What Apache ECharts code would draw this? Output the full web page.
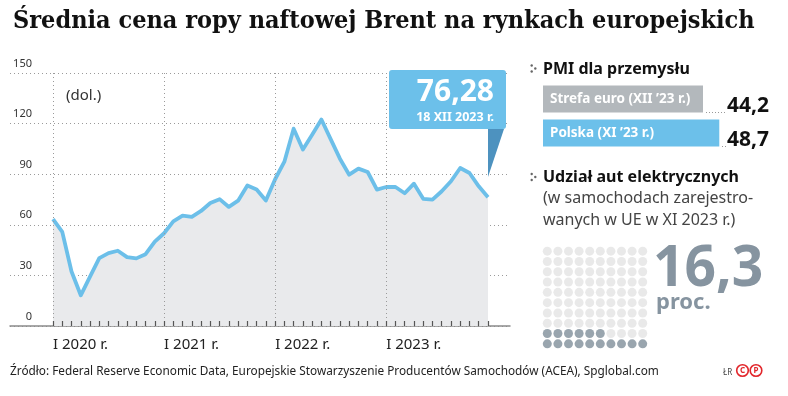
<!DOCTYPE html>
<html>
<head>
<meta charset="utf-8">
<script src="https://cdn.jsdelivr.net/npm/echarts@6/dist/echarts.min.js"></script>
<style>
  html, body { margin: 0; padding: 0; background: #fff; }
  #chart { width: 788px; height: 396px; }
</style>
</head>
<body>
<div id="chart"></div>
<script>
// miesiące I 2020 - XII 2023
var months = [];
for (var y = 2020; y <= 2023; y++) {
  for (var m = 1; m <= 12; m++) months.push(y + '-' + m);
}
var yearLabels = ['I 2020 r.', 'I 2021 r.', 'I 2022 r.', 'I 2023 r.'];

// średnia cena Brent (dol.)
var brent = [
  63.4, 55.8, 32.3, 18.2, 29.3, 40.2, 43.2, 44.6, 40.8, 40.1, 42.6, 50.0,
  55.0, 62.0, 65.4, 64.7, 68.2, 72.9, 75.2, 70.6, 74.3, 83.3, 80.9, 74.4,
  87.0, 97.4, 117.0, 104.6, 113.4, 122.4, 110.8, 99.2, 89.7, 93.3, 91.3, 80.9,
  82.4, 82.4, 78.7, 84.4, 75.4, 74.9, 79.9, 85.8, 93.7, 90.7, 82.8, 76.3
];
var yTicks = [0, 30, 60, 90, 120, 150];

var lastValue = '76,28';
var lastDate = '18 XII 2023 r.';

var pmiNames = ['Strefa euro (XII \u201923 r.)', 'Polska (XI \u201923 r.)'];
var pmiValues = [44.2, 48.7];

var evShare = 16.3;

var fmt = function (v) { return String(v).replace('.', ','); };

var cells = [];
for (var k = 0; k < 100; k++) {
  cells.push({
    value: [k % 10, Math.floor(k / 10)],
    itemStyle: { color: k < Math.floor(evShare) ? '#808f9a' : '#e3e3e3' }
  });
}

var sans = '"Noto Sans", "Open Sans", sans-serif';
var chart = echarts.init(document.getElementById('chart'), null, { renderer: 'canvas' });

var option = {
  backgroundColor: '#fff',
  animation: false,
  title: {
    text: 'Średnia cena ropy naftowej Brent na rynkach europejskich',
    left: 8, top: 4,
    textStyle: { fontFamily: '"DejaVu Serif Condensed", "DejaVu Serif", serif', fontWeight: 'bold', fontSize: 25, color: '#111' }
  },
  grid: [
    { left: 10, right: 278, top: 73, bottom: 70 },
    { left: 53, right: 300, top: 73, bottom: 70 },
    { left: 543, width: 181, top: 82, height: 68 },
    { left: 542, width: 106, top: 246, height: 103 }
  ],
  xAxis: [
    {
      gridIndex: 0, type: 'value', min: 0, max: 1,
      axisLine: { show: true, lineStyle: { color: '#8a8a8a', width: 1.5 } },
      axisTick: { show: false }, axisLabel: { show: false }, splitLine: { show: false }
    },
    {
      gridIndex: 1, type: 'category', data: months, boundaryGap: false, z: 5,
      axisLine: { show: true, lineStyle: { color: 'rgba(0,0,0,0)' } },
      axisTick: { show: true, inside: true, length: 5, interval: 0, lineStyle: { color: '#555', width: 1.2 } },
      axisLabel: {
        interval: function (i) { return i % 12 === 0; },
        formatter: function (v, i) { return yearLabels[Math.floor(i / 12)]; },
        align: 'left', margin: 11, fontFamily: sans, fontSize: 15, color: '#222'
      },
      splitLine: {
        show: true,
        interval: function (i) { return i % 12 === 0; },
        lineStyle: { color: '#9a9a9a', type: [1, 3], width: 1 }
      }
    },
    {
      gridIndex: 2, type: 'value', min: 0, max: 50, show: false
    },
    {
      gridIndex: 3, type: 'value', min: -0.5, max: 9.5, show: false
    }
  ],
  yAxis: [
    {
      gridIndex: 0, type: 'value', min: 0, max: 150, interval: 30,
      axisLine: { show: false }, axisTick: { show: false },
      axisLabel: {
        inside: true, margin: 22, align: 'right', verticalAlign: 'bottom', padding: [0, 0, 4, 0],
        fontFamily: sans, fontSize: 11, color: '#333'
      },
      splitLine: { lineStyle: { color: '#9a9a9a', type: [1, 3], width: 1 } }
    },
    {
      gridIndex: 1, type: 'value', min: 0, max: 150, show: false
    },
    {
      gridIndex: 2, type: 'category', data: pmiNames, inverse: true,
      axisLine: { show: false }, axisTick: { show: false }, axisLabel: { show: false }
    },
    {
      gridIndex: 2, type: 'category', position: 'right', inverse: true,
      data: pmiValues.map(fmt),
      axisLine: { show: false }, axisTick: { show: false },
      axisLabel: {
        margin: 3, align: 'left', verticalAlign: 'top', lineHeight: 14,
        fontFamily: sans, fontWeight: 'bold', fontSize: 21, color: '#111'
      }
    },
    {
      gridIndex: 3, type: 'value', min: -0.5, max: 9.5, show: false
    }
  ],
  series: [
    {
      type: 'line', xAxisIndex: 1, yAxisIndex: 1, data: brent,
      symbol: 'none', smooth: false,
      lineStyle: { color: '#6cbfe9', width: 3.8, join: 'round' },
      areaStyle: { color: '#e9eaec', opacity: 1 },
      z: 3
    },
    {
      type: 'bar', xAxisIndex: 2, yAxisIndex: 2, barWidth: 27,
      data: [
        { value: pmiValues[0], itemStyle: { color: '#b3b8bc' } },
        { value: pmiValues[1], itemStyle: { color: '#6cc0ea' } }
      ],
      label: {
        show: true, position: 'insideLeft', distance: 7,
        formatter: '{b}', fontFamily: sans, fontWeight: 'bold', fontSize: 13.5, color: '#fff'
      }
    },
    {
      type: 'scatter', xAxisIndex: 3, yAxisIndex: 4, data: cells,
      symbol: 'circle', symbolSize: 9
    }
  ],
  graphic: [
    // (dol.)
    { type: 'text', left: 66, top: 88, style: { text: '(dol.)', font: '15px ' + sans, fill: '#333' } },
    // dymek z ostatnią wartością
    { type: 'rect', shape: { x: 389, y: 70, width: 117, height: 59, r: 3 }, style: { fill: '#6cc0ea' }, z: 10 },
    { type: 'polygon', shape: { points: [[488, 129], [504, 129], [488, 177]] }, style: { fill: '#4d92bf' }, z: 10 },
    { type: 'text', x: 494, y: 92, style: { text: lastValue, font: 'bold 30px ' + sans, fill: '#fff', textAlign: 'right', textVerticalAlign: 'middle' }, z: 11 },
    { type: 'text', x: 494, y: 117, style: { text: lastDate, font: 'bold 12.5px ' + sans, fill: '#fff', textAlign: 'right', textVerticalAlign: 'middle' }, z: 11 },
    // prawa kolumna
    { type: 'circle', shape: { cx: 531.7, cy: 65.5, r: 1.2 }, style: { fill: '#666' } },
    { type: 'circle', shape: { cx: 531.7, cy: 71.5, r: 1.2 }, style: { fill: '#666' } },
    { type: 'circle', shape: { cx: 535.3, cy: 68.5, r: 1.2 }, style: { fill: '#666' } },
    { type: 'text', x: 543, y: 69, style: { text: 'PMI dla przemysłu', font: 'bold 16px ' + sans, fill: '#111', textVerticalAlign: 'middle' } },
    { type: 'line', shape: { x1: 706, y1: 112.5, x2: 725, y2: 112.5 }, style: { stroke: '#999', lineWidth: 1, lineDash: [1, 2] } },
    { type: 'line', shape: { x1: 722, y1: 146.5, x2: 726, y2: 146.5 }, style: { stroke: '#999', lineWidth: 1, lineDash: [1, 2] } },
    { type: 'circle', shape: { cx: 531.7, cy: 174, r: 1.2 }, style: { fill: '#666' } },
    { type: 'circle', shape: { cx: 531.7, cy: 180, r: 1.2 }, style: { fill: '#666' } },
    { type: 'circle', shape: { cx: 535.3, cy: 177, r: 1.2 }, style: { fill: '#666' } },
    { type: 'text', x: 543, y: 177, style: { text: 'Udział aut elektrycznych', font: 'bold 16px ' + sans, fill: '#111', textVerticalAlign: 'middle' } },
    { type: 'text', x: 543, y: 198, style: { text: '(w samochodach zarejestro-', font: '16px ' + sans, fill: '#444', textVerticalAlign: 'middle' } },
    { type: 'text', x: 543, y: 220, style: { text: 'wanych w UE w XI 2023 r.)', font: '16px ' + sans, fill: '#444', textVerticalAlign: 'middle' } },
    { type: 'text', x: 653, y: 269, scaleX: 0.95, style: { text: fmt(evShare), font: 'bold 58px ' + sans, fill: '#8694a0', textVerticalAlign: 'middle' } },
    { type: 'text', x: 656, y: 303, style: { text: 'proc.', font: 'bold 22px ' + sans, fill: '#8694a0', textVerticalAlign: 'middle' } },
    // stopka
    { type: 'text', x: 10, y: 372, style: { text: 'Źródło: Federal Reserve Economic Data, Europejskie Stowarzyszenie Producentów Samochodów (ACEA), Spglobal.com', font: '11.8px ' + sans, fill: '#222', textVerticalAlign: 'middle' } },
    { type: 'text', x: 723, y: 373, style: { text: 'ŁR', font: '8px ' + sans, fill: '#444', textVerticalAlign: 'middle' } },
    { type: 'circle', shape: { cx: 742.5, cy: 370.5, r: 5.8 }, style: { fill: 'none', stroke: '#e2262b', lineWidth: 1.6 } },
    { type: 'circle', shape: { cx: 756, cy: 370.5, r: 5.8 }, style: { fill: 'none', stroke: '#e2262b', lineWidth: 1.6 } },
    { type: 'text', x: 742.5, y: 371, style: { text: 'C', font: 'bold 8px ' + sans, fill: '#e2262b', textAlign: 'center', textVerticalAlign: 'middle' } },
    { type: 'text', x: 756, y: 371, style: { text: 'P', font: 'bold 8px ' + sans, fill: '#e2262b', textAlign: 'center', textVerticalAlign: 'middle' } }
  ]
};

chart.setOption(option);
</script>
</body>
</html>
